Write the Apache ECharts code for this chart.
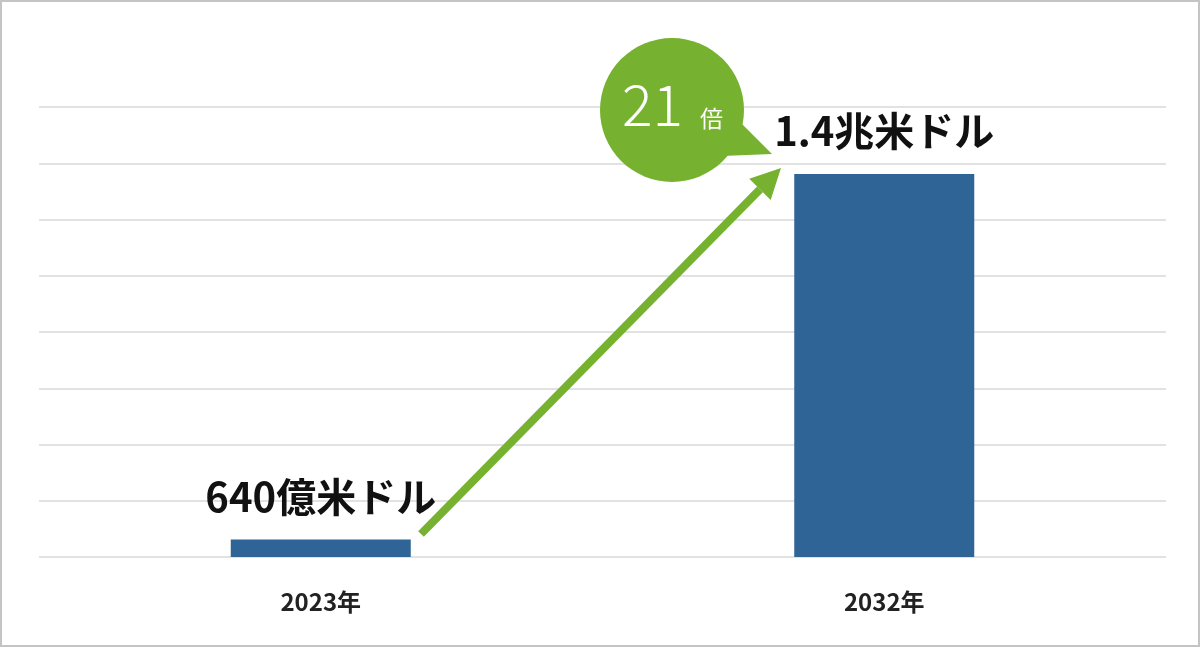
<!DOCTYPE html>
<html>
<head>
<meta charset="utf-8">
<script src="https://cdn.jsdelivr.net/npm/echarts@6/dist/echarts.min.js"></script>
<style>
  html, body { margin: 0; padding: 0; background: #fff; }
  #chart { width: 1200px; height: 647px; }
</style>
</head>
<body>
<div id="chart"></div>
<script>
// market size, in 兆米ドル
const years = ["2023年", "2032年"];
const values = [0.064, 1.4];
const valueLabels = ["640億米ドル", "1.4兆米ドル"];
const multiple = "21";

const yMax = 1.645;
const font = "'Noto Sans CJK JP', 'Noto Sans', sans-serif";

const chart = echarts.init(document.getElementById("chart"));

chart.setOption({
  backgroundColor: "#fff",
  animation: false,
  grid: { left: 39, right: 34, top: 107, bottom: 90 },
  xAxis: {
    type: "category",
    data: years,
    axisLine: { show: false },
    axisTick: { show: false },
    axisLabel: {
      color: "#222",
      fontFamily: font,
      fontWeight: "bold",
      fontSize: 24,
      margin: 33,
    },
  },
  yAxis: {
    type: "value",
    min: 0,
    max: yMax,
    interval: yMax / 8,
    axisLabel: { show: false },
    axisLine: { show: false },
    axisTick: { show: false },
    splitLine: { lineStyle: { color: "#e2e2e2", width: 2 } },
  },
  series: [
    {
      type: "bar",
      data: values,
      barWidth: 180,
      itemStyle: { color: "#2e6496" },
      label: {
        show: true,
        position: "top",
        distance: 23,
        color: "#111",
        fontFamily: font,
        fontWeight: "bold",
        fontSize: 40,
        formatter: (p) => valueLabels[p.dataIndex],
      },
    },
  ],
});

// annotation: arrow between the bars and the "21倍" bubble
const green = "#76b22f";
const from = [421, 534];
const to = [781, 168];
const ang = Math.atan2(to[1] - from[1], to[0] - from[0]);
const headLen = 30, headHalf = 15;
const back = [to[0] - headLen * Math.cos(ang), to[1] - headLen * Math.sin(ang)];
const nx = -Math.sin(ang), ny = Math.cos(ang);

chart.setOption({
  graphic: [
    {
      type: "rect",
      shape: { x: 1, y: 1, width: 1198, height: 645 },
      style: { fill: "none", stroke: "#c4c4c4", lineWidth: 2 },
      silent: true,
    },
    {
      type: "line",
      shape: { x1: from[0], y1: from[1], x2: back[0], y2: back[1] },
      style: { stroke: green, lineWidth: 8 },
    },
    {
      type: "polygon",
      shape: {
        points: [
          to,
          [back[0] + nx * headHalf, back[1] + ny * headHalf],
          [back[0] - nx * headHalf, back[1] - ny * headHalf],
        ],
      },
      style: { fill: green },
    },
    {
      type: "polygon",
      shape: { points: [[740, 122], [772, 154], [722, 156]] },
      style: { fill: green },
    },
    {
      type: "circle",
      shape: { cx: 672, cy: 110, r: 72 },
      style: { fill: green },
    },
    {
      type: "text",
      x: 622, y: 104,
      style: {
        text: multiple,
        fill: "#fff",
        font: "300 57px " + font,
        verticalAlign: "middle",
      },
    },
    {
      type: "text",
      x: 700, y: 118,
      style: {
        text: "倍",
        fill: "#fff",
        font: "400 23px " + font,
        verticalAlign: "middle",
      },
    },
  ],
});
</script>
</body>
</html>
